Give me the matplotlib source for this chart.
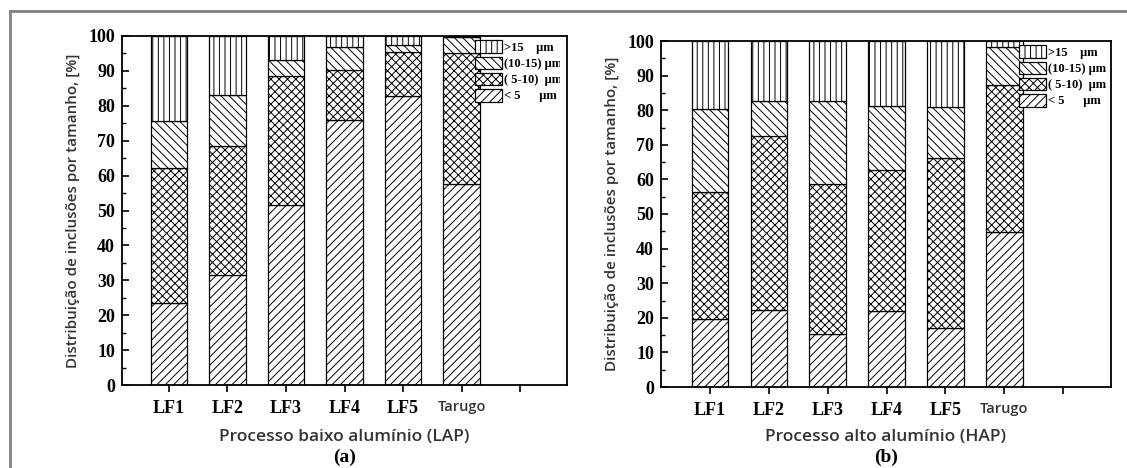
"""Inclusion size distribution per ladle-furnace stage, LAP vs HAP (stacked hatched bars)."""

import matplotlib.pyplot as plt
from matplotlib.patches import Rectangle
from matplotlib.lines import Line2D

W, H = 1127, 468

categories = ["LF1", "LF2", "LF3", "LF4", "LF5", "Tarugo"]
size_labels = [">15    μm", "(10-15) μm", "( 5-10)  μm", "< 5      μm"]

# LAP (baixo alumínio), percentages per size class
lap_lt5 = [23.5, 31.5, 51.5, 75.8, 82.8, 57.5]
lap_5_10 = [38.7, 37.0, 37.0, 14.5, 12.5, 37.5]
lap_10_15 = [13.5, 14.5, 4.5, 6.5, 2.0, 4.7]
lap_gt15 = [24.3, 17.0, 7.0, 3.2, 2.7, 0.3]

# HAP (alto alumínio)
hap_lt5 = [19.7, 22.3, 15.3, 22.0, 17.0, 44.8]
hap_5_10 = [36.6, 50.2, 43.5, 40.6, 49.2, 42.5]
hap_10_15 = [24.0, 10.3, 23.8, 18.7, 14.8, 11.0]
hap_gt15 = [19.7, 17.2, 17.4, 18.7, 19.0, 1.7]

HATCHES = ["////", "xxxx", "\\\\\\\\", "|||"]
SERIF = "Liberation Serif"
SANS = "Open Sans"
LABEL_C = "#333333"

plt.rcParams["hatch.linewidth"] = 0.7

fig = plt.figure(figsize=(W / 100, H / 100), dpi=100, facecolor="white")


def px_axes(x0, y_top, x1, y_bot):
    return fig.add_axes([x0 / W, 1 - y_bot / H, (x1 - x0) / W, (y_bot - y_top) / H])


def panel(ax, series, xlabel, tag, xlim):
    pos = list(range(1, len(categories) + 1))
    bottom = [0.0] * len(categories)
    handles = []
    for vals, hatch in zip(series, HATCHES):
        bars = ax.bar(pos, vals, width=0.62, bottom=bottom, color="white",
                      edgecolor="black", linewidth=0.9, hatch=hatch, zorder=2)
        handles.append(bars)
        bottom = [b + v for b, v in zip(bottom, vals)]

    ax.set_xlim(*xlim)
    ax.set_ylim(0, 100)
    ax.set_yticks(range(0, 101, 10))
    ax.set_yticks(range(5, 100, 10), minor=True)
    ax.set_xticks(pos + [7])
    ax.set_xticklabels(categories + [""])
    for lbl in ax.get_yticklabels():
        lbl.set_fontfamily(SERIF)
        lbl.set_fontweight("bold")
        lbl.set_fontsize(13)
    for lbl in ax.get_xticklabels():
        if lbl.get_text() == "Tarugo":
            lbl.set_fontfamily(SANS)
            lbl.set_fontsize(10.5)
            lbl.set_fontweight("semibold")
            lbl.set_color(LABEL_C)
        else:
            lbl.set_fontfamily(SERIF)
            lbl.set_fontweight("bold")
            lbl.set_fontsize(13)
    ax.tick_params(axis="y", which="major", direction="in", length=5, width=1.2, pad=5)
    ax.tick_params(axis="y", which="minor", direction="in", length=3, width=1.0)
    ax.tick_params(axis="x", which="major", direction="out", length=5, width=1.2, pad=6)
    for sp in ax.spines.values():
        sp.set_linewidth(1.3)

    ax.set_ylabel("Distribuição de inclusões por tamanho, [%]", fontfamily=SANS,
                  fontsize=11, fontweight="semibold", color=LABEL_C, labelpad=6)

    leg = ax.legend(handles[::-1], size_labels, loc="upper right", frameon=False,
                    prop={"family": SERIF, "weight": "bold", "size": 9},
                    handlelength=2.15, handleheight=1.2, handletextpad=0.2,
                    labelspacing=0.2, borderaxespad=0.2, borderpad=0.15)

    bb = ax.get_position()
    cx = bb.x0 + bb.width / 2
    fig.text(cx, 1 - 437 / H, xlabel, ha="center", va="center", fontfamily=SANS,
             fontsize=12.5, fontweight="semibold", color=LABEL_C)
    fig.text(cx, 1 - 457 / H, tag, ha="center", va="center", fontfamily=SERIF,
             fontweight="bold", fontsize=14)
    return leg


ax_a = px_axes(122, 36, 567, 385)
panel(ax_a, [lap_lt5, lap_5_10, lap_10_15, lap_gt15],
      "Processo baixo alumínio (LAP)", "(a)", (0.2, 7.8))

ax_b = px_axes(661, 41, 1111, 387)
panel(ax_b, [hap_lt5, hap_5_10, hap_10_15, hap_gt15],
      "Processo alto alumínio (HAP)", "(b)", (0.17, 7.81))

# panel (a) legend is cropped by panel (b) in the original figure
fig.patches.append(Rectangle((560 / W, 1 - 106 / H), 6 / W, 62 / H,
                             transform=fig.transFigure, facecolor="white",
                             edgecolor="none", zorder=10))

# outer frame (left and top edges only are visible)
frame_kw = dict(transform=fig.transFigure, color="#808080", linewidth=2)
fig.lines.append(Line2D([9.5 / W, 9.5 / W], [0, 1 - 11 / H], **frame_kw))
fig.lines.append(Line2D([9.5 / W, 1], [1 - 11 / H, 1 - 11 / H], **frame_kw))

fig.savefig("out.png", dpi=100, facecolor="white")
print("Saved -> out.png")
